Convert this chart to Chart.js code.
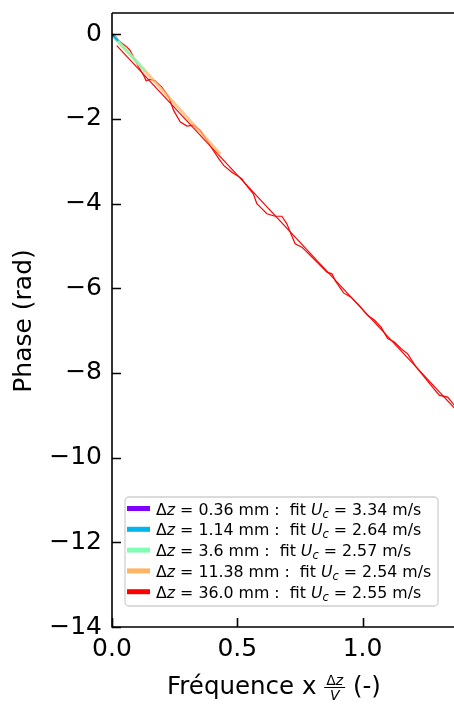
<!DOCTYPE html>
<html>
<head>
<meta charset="utf-8">
<script src="https://cdn.jsdelivr.net/npm/chart.js@4.4.0/dist/chart.umd.min.js"></script>
<style>
  html, body { margin: 0; padding: 0; background: #fff; }
  #wrap { width: 454px; height: 709px; position: relative; }
</style>
</head>
<body>
<div id="wrap"><canvas id="phaseChart"></canvas></div>
<script>
// ---- data ----
const dzLabels = ['0.36', '1.14', '3.6', '11.38', '36.0'];
const ucLabels = ['3.34', '2.64', '2.57', '2.54', '2.55'];
const seriesColors = ['#8000ff', '#00b4ec', '#80ffb4', '#ffb462', '#ff0000'];

const purpleFreq = [0, 0.008];
const purplePhase = [0, -0.04];
const blueFreq = [0, 0.012, 0.024];
const bluePhase = [0, -0.08, -0.16];
const greenFreq = [0, 0.05, 0.1, 0.132];
const greenPhase = [0, -0.33, -0.66, -0.88];
const orangeFreq = [0, 0.1, 0.2, 0.3, 0.432];
const orangePhase = [-0.02, -0.66, -1.31, -1.97, -2.83];

const redFreq = [0.01, 0.032, 0.059, 0.072, 0.086, 0.106, 0.126, 0.136, 0.152, 0.172,
  0.199, 0.226, 0.246, 0.272, 0.299, 0.326, 0.352, 0.379, 0.399, 0.426,
  0.446, 0.478, 0.518, 0.531, 0.564, 0.578, 0.598, 0.618, 0.651, 0.678,
  0.698, 0.711, 0.731, 0.758, 0.791, 0.824, 0.858, 0.878, 0.891, 0.924,
  0.954, 0.987, 1.02, 1.047, 1.074, 1.10, 1.127, 1.154, 1.18, 1.214,
  1.247, 1.28, 1.307, 1.34, 1.367, 1.40];
const redPhase = [-0.02, -0.18, -0.30, -0.38, -0.54, -0.77, -0.97, -1.10, -1.07, -1.10,
  -1.25, -1.48, -1.80, -2.07, -2.17, -2.15, -2.27, -2.51, -2.70, -2.94,
  -3.10, -3.26, -3.41, -3.53, -3.77, -4.00, -4.12, -4.24, -4.30, -4.30,
  -4.48, -4.67, -4.95, -5.03, -5.22, -5.42, -5.62, -5.66, -5.82, -6.11,
  -6.21, -6.41, -6.64, -6.75, -6.92, -7.19, -7.27, -7.43, -7.55, -7.86,
  -8.10, -8.34, -8.53, -8.57, -8.77, -8.95];
const redFitFreq = [0.019, 1.40];
const redFitPhase = [-0.27, -9.04];

const xTicks = [0, 0.5, 1.0];
const yTicks = [-14, -12, -10, -8, -6, -4, -2, 0];

const FONT = "'DejaVu Sans', sans-serif";

function pts(xs, ys) {
  return xs.map((x, i) => ({ x: x, y: ys[i] }));
}

function line(xs, ys, color, width) {
  return {
    data: pts(xs, ys),
    borderColor: color,
    borderWidth: width,
    pointRadius: 0,
    tension: 0,
    fill: false
  };
}

// draw a run of text pieces with different styles on one baseline
function drawRuns(ctx, runs, x, y) {
  runs.forEach(r => {
    ctx.font = r.font;
    ctx.fillText(r.t, x, y + (r.dy || 0));
    x += ctx.measureText(r.t).width;
  });
  return x;
}

const decorPlugin = {
  id: 'decor',
  afterDraw(chart) {
    const ctx = chart.ctx;
    const a = chart.chartArea;
    const xs = chart.scales.x, ys = chart.scales.y;
    ctx.save();

    // spines (no right spine, it lies outside the picture)
    ctx.strokeStyle = '#000';
    ctx.lineWidth = 1.6;
    ctx.beginPath();
    ctx.moveTo(a.left, a.top); ctx.lineTo(a.right + 2, a.top);
    ctx.moveTo(a.left, a.top); ctx.lineTo(a.left, a.bottom);
    ctx.lineTo(a.right + 2, a.bottom);
    ctx.stroke();

    // inward ticks
    ctx.lineWidth = 1.6;
    ctx.beginPath();
    yTicks.forEach(v => {
      const py = Math.round(ys.getPixelForValue(v)) + 0.5;
      ctx.moveTo(a.left, py); ctx.lineTo(a.left + 9, py);
    });
    xTicks.forEach(v => {
      const px = Math.round(xs.getPixelForValue(v)) + 0.5;
      ctx.moveTo(px, a.bottom); ctx.lineTo(px, a.bottom - 9);
    });
    ctx.stroke();

    // legend
    const lx = 125, ly = 497, lw = 313, lh = 109;
    ctx.fillStyle = 'rgba(255,255,255,0.85)';
    ctx.strokeStyle = '#d0d0d0';
    ctx.lineWidth = 1.3;
    ctx.beginPath();
    ctx.roundRect(lx, ly, lw, lh, 4);
    ctx.fill();
    ctx.stroke();
    ctx.textBaseline = 'alphabetic';
    ctx.textAlign = 'left';
    const fs = 15.8;
    dzLabels.forEach((dz, i) => {
      const cy = 508.5 + i * 20.8;
      ctx.strokeStyle = seriesColors[i];
      ctx.lineWidth = 5;
      ctx.beginPath();
      ctx.moveTo(127, cy); ctx.lineTo(150, cy);
      ctx.stroke();
      ctx.fillStyle = '#000';
      drawRuns(ctx, [
        { t: '\u0394', font: fs + 'px ' + FONT },
        { t: 'z', font: 'italic ' + fs + 'px ' + FONT },
        { t: ' = ' + dz + ' mm :  fit ', font: fs + 'px ' + FONT },
        { t: 'U', font: 'italic ' + fs + 'px ' + FONT },
        { t: 'c', font: 'italic 11.5px ' + FONT, dy: 3 },
        { t: ' = ' + ucLabels[i] + ' m/s', font: fs + 'px ' + FONT }
      ], 156, cy + 6);
    });

    // y axis title
    ctx.fillStyle = '#000';
    ctx.save();
    ctx.translate(24, 321);
    ctx.rotate(-Math.PI / 2);
    ctx.font = '25px ' + FONT;
    ctx.textAlign = 'center';
    ctx.textBaseline = 'middle';
    ctx.fillText('Phase (rad)', 0, 0);
    ctx.restore();

    // x axis title with fraction dz / V
    ctx.textAlign = 'left';
    ctx.textBaseline = 'alphabetic';
    const base = 694;
    let x = drawRuns(ctx, [{ t: 'Fr\u00e9quence x ', font: '24.5px ' + FONT }], 167, base);
    ctx.font = '14px ' + FONT;
    const numW = ctx.measureText('\u0394').width;
    ctx.font = 'italic 14px ' + FONT;
    const numW2 = ctx.measureText('z').width;
    const fracW = numW + numW2 + 4;
    drawRuns(ctx, [
      { t: '\u0394', font: '14px ' + FONT },
      { t: 'z', font: 'italic 14px ' + FONT }
    ], x + 2, 685);
    ctx.strokeStyle = '#000';
    ctx.lineWidth = 1;
    ctx.beginPath();
    ctx.moveTo(x, 687.5); ctx.lineTo(x + fracW, 687.5);
    ctx.stroke();
    ctx.font = 'italic 14px ' + FONT;
    const vw = ctx.measureText('V').width;
    ctx.fillText('V', x + (fracW - vw) / 2, 700);
    drawRuns(ctx, [{ t: ' (-)', font: '24.5px ' + FONT }], x + fracW, base);

    ctx.restore();
  }
};

new Chart(document.getElementById('phaseChart'), {
  type: 'line',
  data: {
    datasets: [
      line(purpleFreq, purplePhase, seriesColors[0], 2),
      line(blueFreq, bluePhase, seriesColors[1], 2),
      line(greenFreq, greenPhase, 'rgba(128,255,180,0.8)', 3),
      line(orangeFreq, orangePhase, 'rgba(255,180,98,0.75)', 3),
      line(redFreq, redPhase, seriesColors[4], 1.2),
      line(redFitFreq, redFitPhase, seriesColors[4], 1.2)
    ]
  },
  options: {
    responsive: true,
    maintainAspectRatio: false,
    animation: false,
    devicePixelRatio: 1,
    layout: { padding: { top: 13, left: 0, right: 0, bottom: 0 } },
    plugins: {
      legend: { display: false },
      tooltip: { enabled: false }
    },
    scales: {
      x: {
        type: 'linear',
        min: 0,
        max: 1.365,
        afterBuildTicks: s => { s.ticks = xTicks.map(v => ({ value: v })); },
        afterFit: s => { s.height = 82; s.paddingLeft = 0; s.paddingRight = 0; },
        grid: { display: false, drawTicks: false },
        border: { display: false },
        ticks: {
          color: '#000',
          padding: 7,
          maxRotation: 0,
          autoSkip: false,
          font: { family: FONT, size: 25 },
          callback: v => Number(v).toFixed(1)
        }
      },
      y: {
        type: 'linear',
        min: -14,
        max: 0.5,
        afterBuildTicks: s => { s.ticks = yTicks.map(v => ({ value: v })); },
        afterFit: s => { s.width = 112; s.paddingTop = 0; s.paddingBottom = 0; },
        grid: { display: false, drawTicks: false },
        border: { display: false },
        ticks: {
          color: '#000',
          padding: 10,
          autoSkip: false,
          font: { family: FONT, size: 25 },
          callback: v => v < 0 ? '\u2212' + Math.abs(v) : String(v)
        }
      }
    }
  },
  plugins: [decorPlugin]
});
</script>
</body>
</html>
